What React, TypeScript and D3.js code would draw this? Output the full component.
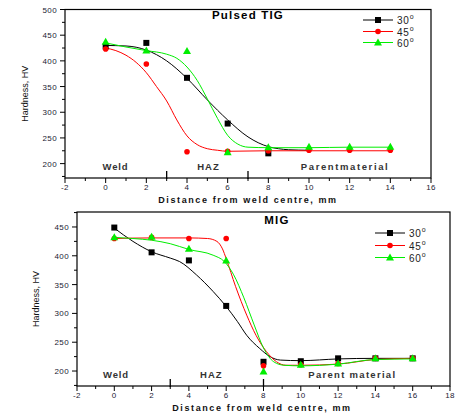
import * as d3 from 'd3';

type Pt = [number, number];

// ---- Pulsed TIG ----
const tigSquares: Pt[] = [[0, 428], [2, 435], [4, 367], [6, 278], [8, 220]];
const tigCircles: Pt[] = [[0, 423], [2, 394], [4, 223], [6, 224], [8, 225], [10, 226], [12, 226], [14, 226]];
const tigTriangles: Pt[] = [[0, 437], [2, 420], [4, 419], [6, 222], [8, 232], [10, 233], [12, 233], [14, 233]];
// fitted curves
const tigFit30: Pt[] = [[0, 430], [1, 429], [2, 421], [3, 400], [4, 366], [5, 324], [6, 285], [7, 252], [8, 233], [8.5, 229], [9, 227], [10, 226]];
const tigFit45: Pt[] = [[0, 425], [0.5, 420], [1, 411], [1.5, 397], [2, 377], [2.5, 350], [3, 322], [3.5, 285], [4, 254], [4.5, 237], [5, 229], [5.5, 226], [6, 224], [8, 225], [10, 225], [12, 225], [14, 225]];
const tigFit60: Pt[] = [[0, 435], [1, 427], [2, 420], [3, 413], [3.5, 405], [4, 388], [4.5, 362], [5, 326], [5.5, 288], [6, 255], [6.5, 238], [7, 232], [8, 231], [10, 231], [12, 232], [14, 232]];

// ---- MIG ----
const migSquares: Pt[] = [[0, 449], [2, 406], [4, 392], [6, 313], [8, 216], [10, 217], [12, 222], [14, 222], [16, 222]];
const migCircles: Pt[] = [[0, 430], [2, 432], [4, 430], [6, 430], [8, 209], [10, 211], [12, 213], [14, 222], [16, 222]];
const migTriangles: Pt[] = [[0, 432], [2, 433], [4, 412], [6, 392], [8, 199], [10, 211], [12, 213], [14, 222], [16, 222]];
const migFit30: Pt[] = [[0, 448], [1, 425], [2, 407], [3, 396], [3.5, 390], [4.4, 367], [5.3, 338], [6, 312], [6.6, 286], [7.1, 262], [7.8, 239], [8.35, 225], [8.9, 219], [10, 218], [12, 221], [14, 222], [16, 222]];
const migFit45: Pt[] = [[0, 430], [2, 431], [4, 431], [5, 430], [5.5, 425], [5.8, 412], [6, 395], [6.5, 347], [7.1, 297], [7.6, 262], [8.15, 234], [8.7, 216], [9.2, 210], [10, 210], [12, 212], [14, 220], [16, 222]];
const migFit60: Pt[] = [[0, 432], [1, 430], [2, 427], [3, 421], [4, 411], [5.3, 401], [5.9, 390], [6.4, 367], [6.95, 327], [7.5, 280], [8, 240], [8.55, 216], [9.1, 210], [10, 209], [12, 212], [14, 220], [16, 221]];

const seriesNames = ['30', '45', '60'];
const seriesColors = ['#000000', '#ff0000', '#00ee00'];

const tigXTicks = d3.range(-2, 17, 2);
const tigYTicks = d3.range(200, 501, 50);
const migXTicks = d3.range(-2, 19, 2);
const migYTicks = d3.range(200, 451, 50);

const FONT = 'Liberation Sans, Arial, sans-serif';

function Marker({ kind, x, y, color }: { kind: number; x: number; y: number; color: string }) {
  if (kind === 0) return <rect x={x - 3} y={y - 3} width={6} height={6} fill={color} />;
  if (kind === 1) return <circle cx={x} cy={y} r={2.8} fill={color} />;
  return <path d={`M${x},${y - 4}L${x + 4},${y + 3}L${x - 4},${y + 3}Z`} fill={color} />;
}

interface PanelProps {
  title: string;
  xDomain: [number, number];
  xRange: [number, number];
  yDomain: [number, number];
  yRange: [number, number];
  xTicks: number[];
  yTicks: number[];
  points: Pt[][];
  fits: Pt[][];
  regions: { label: string; x: number; sp: number }[];
  dividers: number[];
  legendX: number;
  legendY: number[];
  titleX: number;
  titleY: number;
  yLabelX: number;
  xLabelX: number;
}

function Panel(p: PanelProps) {
  const x = d3.scaleLinear().domain(p.xDomain).range(p.xRange);
  const y = d3.scaleLinear().domain(p.yDomain).range(p.yRange);
  const [x0, x1] = p.xRange;
  const [yb, yt] = p.yRange;
  const line = d3.line<Pt>().x(d => x(d[0])).y(d => y(d[1])).curve(d3.curveMonotoneX);
  const xMinor = p.xTicks.slice(0, -1).map(t => t + 1);
  const yMinor = d3.range(p.yDomain[0], p.yDomain[1], 1).filter(v => v % 50 === 25);

  return (
    <g fontFamily={FONT}>
      {/* fitted curves */}
      {p.fits.map((f, i) => (
        <path key={'f' + i} d={line(f) || ''} fill="none" stroke={seriesColors[i]} strokeWidth={1} />
      ))}
      {/* data markers */}
      {p.points.map((s, i) =>
        s.map((d, j) => <Marker key={`m${i}-${j}`} kind={i} x={x(d[0])} y={y(d[1])} color={seriesColors[i]} />)
      )}
      {/* frame */}
      <rect x={x0} y={yt} width={x1 - x0} height={yb - yt} fill="none" stroke="#000" strokeWidth={1.2} />
      {p.xTicks.map(t => (
        <g key={'xt' + t}>
          <line x1={x(t)} x2={x(t)} y1={yb} y2={yb + 5} stroke="#000" />
          <text x={x(t)} y={yb + 12} fontSize={8} textAnchor="middle" fill="#223" letterSpacing={0.4}>{t}</text>
        </g>
      ))}
      {xMinor.map(t => <line key={'xm' + t} x1={x(t)} x2={x(t)} y1={yb} y2={yb + 3} stroke="#000" />)}
      {p.yTicks.map(t => (
        <g key={'yt' + t}>
          <line x1={x0 - 5} x2={x0} y1={y(t)} y2={y(t)} stroke="#000" />
          <text x={x0 - 8} y={y(t) + 3} fontSize={8} textAnchor="end" fill="#223" letterSpacing={0.4}>{t}</text>
        </g>
      ))}
      {yMinor.map(t => <line key={'ym' + t} x1={x0 - 3} x2={x0} y1={y(t)} y2={y(t)} stroke="#000" />)}
      {/* region labels */}
      {p.regions.map(r => (
        <text key={r.label} x={x(r.x)} y={yb - 8} fontSize={9.5} fontWeight="bold" fill="#333" letterSpacing={r.sp}>{r.label}</text>
      ))}
      {p.dividers.map(d => <line key={'dv' + d} x1={x(d)} x2={x(d)} y1={yb - 7} y2={yb + 1} stroke="#000" strokeWidth={1.3} />)}
      {/* title */}
      <text x={p.titleX} y={p.titleY} fontSize={11.5} fontWeight="bold" textAnchor="middle" letterSpacing={1.2}>{p.title}</text>
      {/* axis titles */}
      <text x={p.xLabelX} y={yb + 25} fontSize={9} fontWeight="bold" textAnchor="middle" letterSpacing={1.6} fill="#111">Distance from weld centre, mm</text>
      <text transform={`translate(${p.yLabelX},${(yb + yt) / 2}) rotate(-90)`} fontSize={9} textAnchor="middle" fill="#111">Hardness, HV</text>
      {/* legend */}
      {seriesNames.map((n, i) => (
        <g key={'lg' + n}>
          <line x1={p.legendX} x2={p.legendX + 30} y1={p.legendY[i]} y2={p.legendY[i]} stroke={seriesColors[i]} />
          <Marker kind={i} x={p.legendX + 15} y={p.legendY[i]} color={seriesColors[i]} />
          <text x={p.legendX + 34} y={p.legendY[i] + 4} fontSize={10} fill="#222" letterSpacing={0.8}>
            {n}<tspan dy={-5} fontSize={7}>o</tspan>
          </text>
        </g>
      ))}
    </g>
  );
}

export default function App() {
  return (
    <svg width={457} height={415} style={{ position: 'absolute', left: 0, top: 0, background: '#fff' }}>
      <Panel
        title="Pulsed TIG"
        xDomain={[-2, 16]}
        xRange={[65, 431]}
        yDomain={[172, 500]}
        yRange={[178, 9.5]}
        xTicks={tigXTicks}
        yTicks={tigYTicks}
        points={[tigSquares, tigCircles, tigTriangles]}
        fits={[tigFit30, tigFit45, tigFit60]}
        regions={[{ label: 'Weld', x: -0.15, sp: 0.8 }, { label: 'HAZ', x: 4.5, sp: 1 }, { label: 'Parentmaterial', x: 9.6, sp: 1.6 }]}
        dividers={[3, 7]}
        legendX={363}
        legendY={[20, 31.5, 42.5]}
        titleX={248}
        titleY={19}
        yLabelX={28}
        xLabelX={248}
      />
      <Panel
        title="MIG"
        xDomain={[-2, 18]}
        xRange={[77, 450]}
        yDomain={[174, 476]}
        yRange={[386, 212]}
        xTicks={migXTicks}
        yTicks={migYTicks}
        points={[migSquares, migCircles, migTriangles]}
        fits={[migFit30, migFit45, migFit60]}
        regions={[{ label: 'Weld', x: -0.6, sp: 0.8 }, { label: 'HAZ', x: 4.6, sp: 1 }, { label: 'Parent material', x: 10.4, sp: 1.3 }]}
        dividers={[3, 8]}
        legendX={375}
        legendY={[233, 245.5, 257.5]}
        titleX={277}
        titleY={224}
        yLabelX={39}
        xLabelX={262}
      />
    </svg>
  );
}
